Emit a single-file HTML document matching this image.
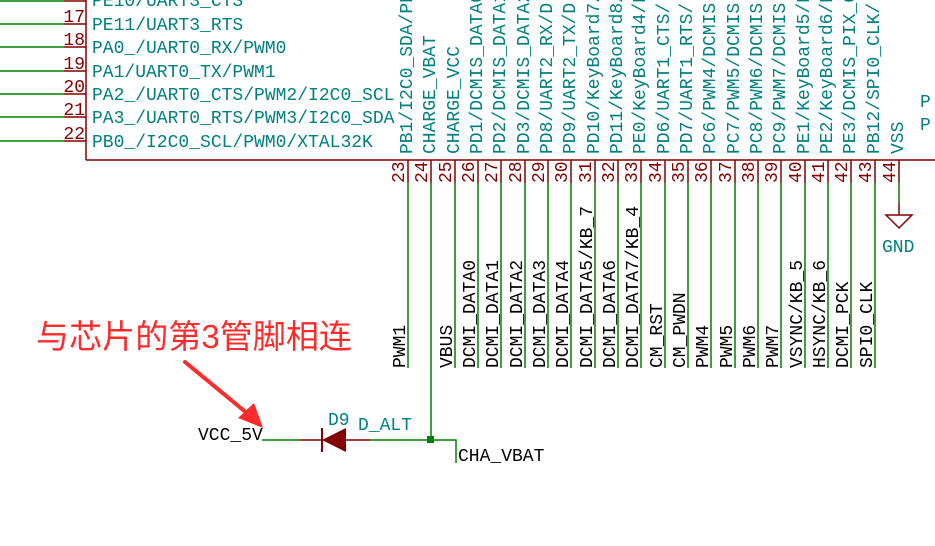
<!DOCTYPE html>
<html><head><meta charset="utf-8"><style>
html,body{margin:0;padding:0;background:#fff;}
svg{display:block}
.m{font-family:"Liberation Mono",monospace;font-size:18px;}
.t{fill:#008080}
.r{fill:#840000}
.k{fill:#000}
</style></head><body>
<svg width="935" height="546" xmlns="http://www.w3.org/2000/svg">
<line x1="86" y1="0" x2="86" y2="160" stroke="#840000" stroke-width="1.5"/>
<line x1="86" y1="160" x2="935" y2="160" stroke="#840000" stroke-width="1.5"/>
<g stroke-width="1.5">
<line x1="0" y1="1" x2="64" y2="1" stroke="#008000"/><line x1="64" y1="1" x2="86" y2="1" stroke="#840000"/>
<line x1="0" y1="24" x2="64" y2="24" stroke="#008000"/><line x1="64" y1="24" x2="86" y2="24" stroke="#840000"/>
<line x1="0" y1="47" x2="64" y2="47" stroke="#008000"/><line x1="64" y1="47" x2="86" y2="47" stroke="#840000"/>
<line x1="0" y1="71" x2="64" y2="71" stroke="#008000"/><line x1="64" y1="71" x2="86" y2="71" stroke="#840000"/>
<line x1="0" y1="94" x2="64" y2="94" stroke="#008000"/><line x1="64" y1="94" x2="86" y2="94" stroke="#840000"/>
<line x1="0" y1="117" x2="64" y2="117" stroke="#008000"/><line x1="64" y1="117" x2="86" y2="117" stroke="#840000"/>
<line x1="0" y1="141" x2="64" y2="141" stroke="#008000"/><line x1="64" y1="141" x2="86" y2="141" stroke="#840000"/>
</g>
<g class="m r" text-anchor="end">
<text x="85" y="22">17</text><text x="85" y="45">18</text><text x="85" y="69">19</text>
<text x="85" y="92">20</text><text x="85" y="115">21</text><text x="85" y="139">22</text>
</g>
<g class="m t">
<text x="92" y="6">PE10/UART3_CTS</text>
<text x="92" y="30">PE11/UART3_RTS</text>
<text x="92" y="53">PA0_/UART0_RX/PWM0</text>
<text x="92" y="77">PA1/UART0_TX/PWM1</text>
<text x="92" y="100">PA2_/UART0_CTS/PWM2/I2C0_SCL</text>
<text x="92" y="123">PA3_/UART0_RTS/PWM3/I2C0_SDA</text>
<text x="92" y="147">PB0_/I2C0_SCL/PWM0/XTAL32K</text>
<text x="920" y="107">P</text>
<text x="920" y="130">P</text>
</g>
<g stroke-width="1.5">
<g stroke="#840000">
<line x1="408" y1="160" x2="408" y2="183"/><line x1="431" y1="160" x2="431" y2="183"/><line x1="455" y1="160" x2="455" y2="183"/><line x1="478" y1="160" x2="478" y2="183"/><line x1="501" y1="160" x2="501" y2="183"/><line x1="525" y1="160" x2="525" y2="183"/><line x1="548" y1="160" x2="548" y2="183"/><line x1="571" y1="160" x2="571" y2="183"/><line x1="595" y1="160" x2="595" y2="183"/><line x1="618" y1="160" x2="618" y2="183"/><line x1="641" y1="160" x2="641" y2="183"/><line x1="665" y1="160" x2="665" y2="183"/><line x1="688" y1="160" x2="688" y2="183"/><line x1="711" y1="160" x2="711" y2="183"/><line x1="735" y1="160" x2="735" y2="183"/><line x1="758" y1="160" x2="758" y2="183"/><line x1="781" y1="160" x2="781" y2="183"/><line x1="805" y1="160" x2="805" y2="183"/><line x1="828" y1="160" x2="828" y2="183"/><line x1="851" y1="160" x2="851" y2="183"/><line x1="875" y1="160" x2="875" y2="183"/><line x1="899" y1="160" x2="899" y2="183"/>
<line x1="899" y1="203" x2="899" y2="215"/>
<path d="M886 215 L912 215 L899 228 Z" fill="none"/>
</g>
<g stroke="#008000">
<line x1="408" y1="183" x2="408" y2="368"/><line x1="431" y1="183" x2="431" y2="438"/><line x1="455" y1="183" x2="455" y2="368"/><line x1="478" y1="183" x2="478" y2="368"/><line x1="501" y1="183" x2="501" y2="368"/><line x1="525" y1="183" x2="525" y2="368"/><line x1="548" y1="183" x2="548" y2="368"/><line x1="571" y1="183" x2="571" y2="368"/><line x1="595" y1="183" x2="595" y2="368"/><line x1="618" y1="183" x2="618" y2="368"/><line x1="641" y1="183" x2="641" y2="368"/><line x1="665" y1="183" x2="665" y2="368"/><line x1="688" y1="183" x2="688" y2="368"/><line x1="711" y1="183" x2="711" y2="368"/><line x1="735" y1="183" x2="735" y2="368"/><line x1="758" y1="183" x2="758" y2="368"/><line x1="781" y1="183" x2="781" y2="368"/><line x1="805" y1="183" x2="805" y2="368"/><line x1="828" y1="183" x2="828" y2="368"/><line x1="851" y1="183" x2="851" y2="368"/><line x1="875" y1="183" x2="875" y2="368"/>
<line x1="899" y1="183" x2="899" y2="203"/>
<line x1="262" y1="440" x2="300" y2="440"/>
<line x1="370" y1="440" x2="431" y2="440"/>
<polyline points="431,440 456,440 456,463" fill="none"/>
</g>
<line x1="300" y1="440" x2="370" y2="440" stroke="#840000"/>
<line x1="322" y1="428" x2="322" y2="452" stroke="#840000" stroke-width="2"/>
</g>
<path d="M322 440 L346 428 L346 452 Z" fill="#840000"/>
<rect x="427" y="436" width="7" height="7" fill="#008000"/>
<g class="m r">
<text transform="translate(404,183) rotate(-90)">23</text>
<text transform="translate(427,183) rotate(-90)">24</text>
<text transform="translate(451,183) rotate(-90)">25</text>
<text transform="translate(474,183) rotate(-90)">26</text>
<text transform="translate(497,183) rotate(-90)">27</text>
<text transform="translate(521,183) rotate(-90)">28</text>
<text transform="translate(544,183) rotate(-90)">29</text>
<text transform="translate(567,183) rotate(-90)">30</text>
<text transform="translate(591,183) rotate(-90)">31</text>
<text transform="translate(614,183) rotate(-90)">32</text>
<text transform="translate(637,183) rotate(-90)">33</text>
<text transform="translate(661,183) rotate(-90)">34</text>
<text transform="translate(684,183) rotate(-90)">35</text>
<text transform="translate(707,183) rotate(-90)">36</text>
<text transform="translate(731,183) rotate(-90)">37</text>
<text transform="translate(754,183) rotate(-90)">38</text>
<text transform="translate(777,183) rotate(-90)">39</text>
<text transform="translate(801,183) rotate(-90)">40</text>
<text transform="translate(824,183) rotate(-90)">41</text>
<text transform="translate(847,183) rotate(-90)">42</text>
<text transform="translate(871,183) rotate(-90)">43</text>
<text transform="translate(895,183) rotate(-90)">44</text>
</g>
<g class="m t">
<text transform="translate(412,154) rotate(-90)">PB1/I2C0_SDA/PB</text>
<text transform="translate(435,154) rotate(-90)">CHARGE_VBAT</text>
<text transform="translate(459,154) rotate(-90)">CHARGE_VCC</text>
<text transform="translate(482,154) rotate(-90)">PD1/DCMIS_DATA0</text>
<text transform="translate(505,154) rotate(-90)">PD2/DCMIS_DATA1</text>
<text transform="translate(529,154) rotate(-90)">PD3/DCMIS_DATA2</text>
<text transform="translate(552,154) rotate(-90)">PD8/UART2_RX/D</text>
<text transform="translate(575,154) rotate(-90)">PD9/UART2_TX/D</text>
<text transform="translate(599,154) rotate(-90)">PD10/KeyBoard7/</text>
<text transform="translate(622,154) rotate(-90)">PD11/KeyBoard8/</text>
<text transform="translate(645,154) rotate(-90)">PE0/KeyBoard4/D</text>
<text transform="translate(669,154) rotate(-90)">PD6/UART1_CTS/</text>
<text transform="translate(692,154) rotate(-90)">PD7/UART1_RTS/</text>
<text transform="translate(715,154) rotate(-90)">PC6/PWM4/DCMIS</text>
<text transform="translate(739,154) rotate(-90)">PC7/PWM5/DCMIS</text>
<text transform="translate(762,154) rotate(-90)">PC8/PWM6/DCMIS</text>
<text transform="translate(785,154) rotate(-90)">PC9/PWM7/DCMIS</text>
<text transform="translate(809,154) rotate(-90)">PE1/KeyBoard5/D</text>
<text transform="translate(832,154) rotate(-90)">PE2/KeyBoard6/D</text>
<text transform="translate(855,154) rotate(-90)">PE3/DCMIS_PIX_C</text>
<text transform="translate(879,154) rotate(-90)">PB12/SPI0_CLK/</text>
<text transform="translate(903,154) rotate(-90)">VSS</text>
<text x="882" y="252">GND</text>
<text x="328" y="425">D9</text>
<text x="358" y="430">D_ALT</text>
</g>
<g class="m k">
<text transform="translate(405,368) rotate(-90)">PWM1</text>
<text transform="translate(452,368) rotate(-90)">VBUS</text>
<text transform="translate(475,368) rotate(-90)">DCMI_DATA0</text>
<text transform="translate(498,368) rotate(-90)">DCMI_DATA1</text>
<text transform="translate(522,368) rotate(-90)">DCMI_DATA2</text>
<text transform="translate(545,368) rotate(-90)">DCMI_DATA3</text>
<text transform="translate(568,368) rotate(-90)">DCMI_DATA4</text>
<text transform="translate(592,368) rotate(-90)">DCMI_DATA5/KB_7</text>
<text transform="translate(615,368) rotate(-90)">DCMI_DATA6</text>
<text transform="translate(638,368) rotate(-90)">DCMI_DATA7/KB_4</text>
<text transform="translate(662,368) rotate(-90)">CM_RST</text>
<text transform="translate(685,368) rotate(-90)">CM_PWDN</text>
<text transform="translate(708,368) rotate(-90)">PWM4</text>
<text transform="translate(732,368) rotate(-90)">PWM5</text>
<text transform="translate(755,368) rotate(-90)">PWM6</text>
<text transform="translate(778,368) rotate(-90)">PWM7</text>
<text transform="translate(802,368) rotate(-90)">VSYNC/KB_5</text>
<text transform="translate(825,368) rotate(-90)">HSYNC/KB_6</text>
<text transform="translate(848,368) rotate(-90)">DCMI_PCK</text>
<text transform="translate(872,368) rotate(-90)">SPI0_CLK</text>
<text x="198" y="440">VCC_5V</text>
<text x="458" y="461">CHA_VBAT</text>
</g>
<text x="36" y="348" font-family="'Liberation Sans','Noto Sans CJK SC',sans-serif" font-size="33" fill="#ff2a2a" textLength="316" lengthAdjust="spacingAndGlyphs">与芯片的第3管脚相连</text>
<line x1="185" y1="362" x2="248" y2="414" stroke="#ff2a2a" stroke-width="4" stroke-linecap="round"/>
<path d="M263 428 L238 418 L254 403 Z" fill="#ff2a2a"/>
</svg>
</body></html>
